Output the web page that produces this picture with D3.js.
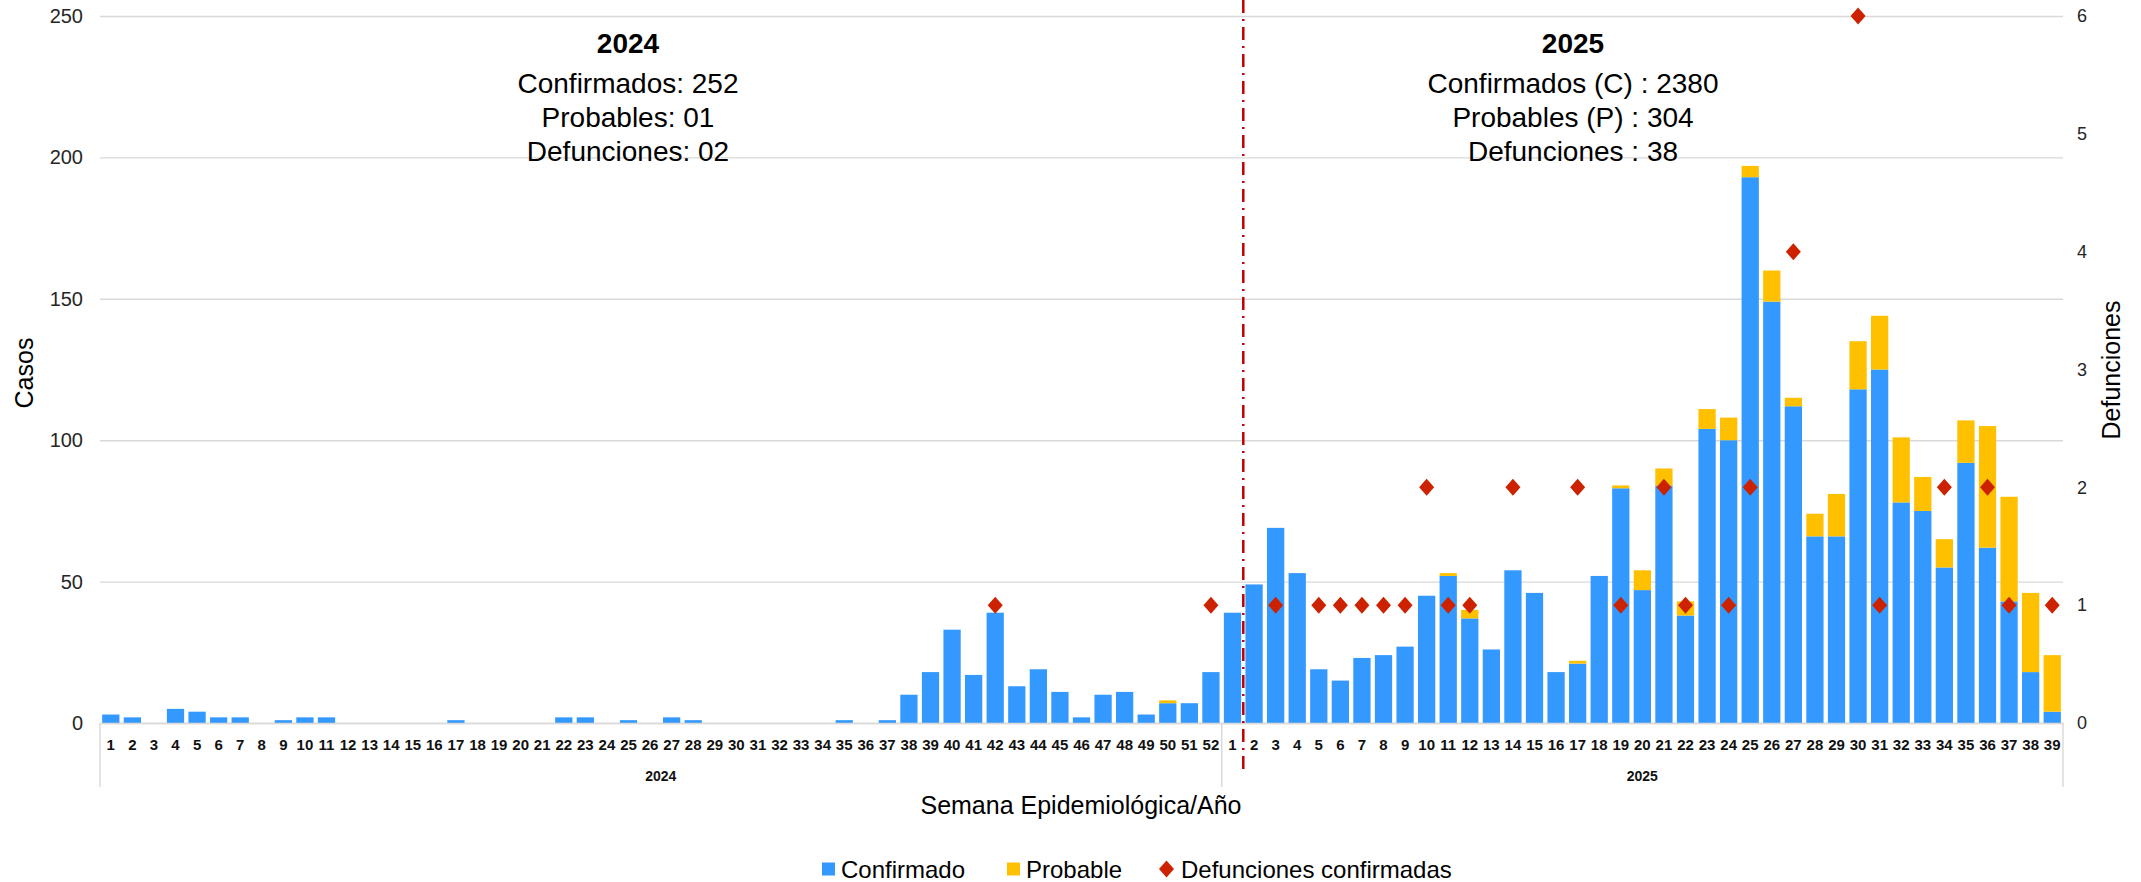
<!DOCTYPE html>
<html>
<head>
<meta charset="utf-8">
<script src="https://cdn.jsdelivr.net/npm/d3@7"></script>
<style>
  html, body { margin: 0; padding: 0; background: #fff; }
  svg { display: block; font-family: "Liberation Sans", Arial, sans-serif; }
</style>
</head>
<body>
<div id="chart"></div>
<script>
// semanas epidemiológicas
const weeks2024 = [1,2,3,4,5,6,7,8,9,10,11,12,13,14,15,16,17,18,19,20,21,22,23,24,25,26,
  27,28,29,30,31,32,33,34,35,36,37,38,39,40,41,42,43,44,45,46,47,48,49,50,51,52];
const weeks2025 = [1,2,3,4,5,6,7,8,9,10,11,12,13,14,15,16,17,18,19,20,21,22,23,24,25,26,
  27,28,29,30,31,32,33,34,35,36,37,38,39];

const confirmed2024 = [3,2,0,5,4,2,2,0,1,2,2,0,0,0,0,0,1,0,0,0,0,2,2,0,1,0,
  2,1,0,0,0,0,0,0,1,0,1,10,18,33,17,39,13,19,11,2,10,11,3,7,7,18];
const probable2024 = [0,0,0,0,0,0,0,0,0,0,0,0,0,0,0,0,0,0,0,0,0,0,0,0,0,0,
  0,0,0,0,0,0,0,0,0,0,0,0,0,0,0,0,0,0,0,0,0,0,0,1,0,0];
const deaths2024 = [null,null,null,null,null,null,null,null,null,null,null,null,null,null,null,null,null,null,null,null,null,null,null,null,null,null,
  null,null,null,null,null,null,null,null,null,null,null,null,null,null,null,1,null,null,null,null,null,null,null,null,null,1];

const confirmed2025 = [39,49,69,53,19,15,23,24,27,45,52,37,26,54,46,18,21,52,83,47,84,38,104,100,193,149,
  112,66,66,118,125,78,75,55,92,62,43,18,4];
const probable2025 = [0,0,0,0,0,0,0,0,0,0,1,3,0,0,0,0,1,0,1,7,6,5,7,8,4,11,
  3,8,15,17,19,23,12,10,15,43,37,28,20];
const deaths2025 = [null,null,1,null,1,1,1,1,1,2,1,1,null,2,null,null,2,null,1,null,2,1,null,1,2,null,
  4,null,null,6,1,null,null,2,null,2,1,null,1];

const leftTicks = [0,50,100,150,200,250];
const rightTicks = [0,1,2,3,4,5,6];

const summary2024 = ["Confirmados: 252", "Probables: 01", "Defunciones: 02"];
const summary2025 = ["Confirmados (C) : 2380", "Probables (P) : 304", "Defunciones : 38"];

const colors = { confirmed: "#3399ff", probable: "#ffc000", death: "#cc2200" };

// tabla de filas
const rows = [];
weeks2024.forEach((w, i) => rows.push({ key: "2024-" + w, year: "2024", week: w,
  confirmed: confirmed2024[i], probable: probable2024[i], deaths: deaths2024[i] }));
weeks2025.forEach((w, i) => rows.push({ key: "2025-" + w, year: "2025", week: w,
  confirmed: confirmed2025[i], probable: probable2025[i], deaths: deaths2025[i] }));

const W = 2141, H = 882;
const mLeft = 100, mRight = 2063, mTop = 16, mBottom = 723;

const svg = d3.select("#chart").append("svg")
  .attr("width", W).attr("height", H);

const x = d3.scaleBand()
  .domain(rows.map(d => d.key))
  .range([mLeft, mRight])
  .paddingInner(0.2)
  .paddingOuter(0.1);

const y = d3.scaleLinear().domain([0, 250]).range([mBottom, mTop]);
const y2 = d3.scaleLinear().domain([0, 6]).range([mBottom, mTop]);

// grid + eje izquierdo
const gy = svg.append("g")
  .attr("transform", `translate(${mLeft},0)`)
  .call(d3.axisLeft(y).tickValues(leftTicks).tickSize(-(mRight - mLeft)).tickPadding(17));
gy.select(".domain").remove();
gy.selectAll(".tick line").attr("stroke", "#d9d9d9").attr("stroke-width", 1.4);
gy.selectAll(".tick text").attr("font-size", 20).attr("fill", "#262626")
  .attr("font-family", "Liberation Sans, Arial, sans-serif");

// eje derecho
const gy2 = svg.append("g")
  .attr("transform", `translate(${mRight},0)`)
  .call(d3.axisRight(y2).tickValues(rightTicks).tickFormat(d3.format("d")).tickSize(0).tickPadding(14));
gy2.select(".domain").remove();
gy2.selectAll(".tick text").attr("font-size", 18).attr("fill", "#262626")
  .attr("font-family", "Liberation Sans, Arial, sans-serif");

// barras apiladas
const bars = svg.append("g");
bars.selectAll("rect.conf")
  .data(rows.filter(d => d.confirmed > 0))
  .join("rect")
  .attr("class", "conf")
  .attr("x", d => x(d.key))
  .attr("width", x.bandwidth())
  .attr("y", d => y(d.confirmed))
  .attr("height", d => y(0) - y(d.confirmed))
  .attr("fill", colors.confirmed);

bars.selectAll("rect.prob")
  .data(rows.filter(d => d.probable > 0))
  .join("rect")
  .attr("class", "prob")
  .attr("x", d => x(d.key))
  .attr("width", x.bandwidth())
  .attr("y", d => y(d.confirmed + d.probable))
  .attr("height", d => y(d.confirmed) - y(d.confirmed + d.probable))
  .attr("fill", colors.probable);

// eje x (semanas)
const gx = svg.append("g")
  .attr("transform", `translate(0,${mBottom})`)
  .call(d3.axisBottom(x).tickSize(0).tickPadding(16)
    .tickFormat(k => rows.find(r => r.key === k).week));
gx.select(".domain").attr("stroke", "#d9d9d9").attr("stroke-width", 1.6);
gx.selectAll(".tick text").attr("font-size", 15).attr("font-weight", "bold")
  .attr("fill", "#111").attr("font-family", "Liberation Sans, Arial, sans-serif");

// separadores de año
const cell = x.step();
const yearBounds = [mLeft, x("2025-1") - cell * 0.1, mRight];
svg.append("g").selectAll("line")
  .data(yearBounds)
  .join("line")
  .attr("x1", d => d).attr("x2", d => d)
  .attr("y1", mBottom).attr("y2", 787)
  .attr("stroke", "#d9d9d9").attr("stroke-width", 1.4);

const years = [
  { year: "2024", x0: yearBounds[0], x1: yearBounds[1] },
  { year: "2025", x0: yearBounds[1], x1: yearBounds[2] }
];
svg.append("g").selectAll("text")
  .data(years)
  .join("text")
  .attr("x", d => (d.x0 + d.x1) / 2)
  .attr("y", 781)
  .attr("text-anchor", "middle")
  .attr("font-size", 14)
  .attr("font-weight", "bold")
  .attr("fill", "#111")
  .text(d => d.year);

// línea divisoria roja
const splitX = x("2025-2") - cell * 0.1;
svg.append("line")
  .attr("x1", splitX).attr("x2", splitX)
  .attr("y1", 0).attr("y2", 769)
  .attr("stroke", "#c00000")
  .attr("stroke-width", 2.5)
  .attr("stroke-dasharray", "13,6,2,6");

// defunciones (rombos)
const diamond = {
  draw(ctx) {
    ctx.moveTo(0, -8.5); ctx.lineTo(7.5, 0); ctx.lineTo(0, 8.5); ctx.lineTo(-7.5, 0); ctx.closePath();
  }
};
svg.append("g").selectAll("path")
  .data(rows.filter(d => d.deaths != null))
  .join("path")
  .attr("transform", d => `translate(${x(d.key) + x.bandwidth() / 2},${y2(d.deaths)})`)
  .attr("d", d3.symbol(diamond)())
  .attr("fill", colors.death);

// resúmenes
function summary(cx, title, lines) {
  const g = svg.append("g");
  g.append("text")
    .attr("x", cx).attr("y", 53)
    .attr("text-anchor", "middle")
    .attr("font-size", 28).attr("font-weight", "bold")
    .text(title);
  g.selectAll("text.line")
    .data(lines)
    .join("text")
    .attr("class", "line")
    .attr("x", cx)
    .attr("y", (d, i) => 93 + i * 34)
    .attr("text-anchor", "middle")
    .attr("font-size", 28)
    .text(d => d);
}
summary(628, "2024", summary2024);
summary(1573, "2025", summary2025);

// títulos de ejes
svg.append("text")
  .attr("transform", `translate(33,373) rotate(-90)`)
  .attr("text-anchor", "middle")
  .attr("font-size", 25)
  .text("Casos");
svg.append("text")
  .attr("transform", `translate(2120,370) rotate(-90)`)
  .attr("text-anchor", "middle")
  .attr("font-size", 25)
  .text("Defunciones");
svg.append("text")
  .attr("x", 1081).attr("y", 814)
  .attr("text-anchor", "middle")
  .attr("font-size", 25)
  .text("Semana Epidemiológica/Año");

// leyenda
const legendItems = [
  { label: "Confirmado", color: colors.confirmed, shape: "square", x: 822 },
  { label: "Probable", color: colors.probable, shape: "square", x: 1007 },
  { label: "Defunciones confirmadas", color: colors.death, shape: "diamond", x: 1159 }
];
const lg = svg.append("g");
const li = lg.selectAll("g").data(legendItems).join("g")
  .attr("transform", d => `translate(${d.x},869)`);
li.filter(d => d.shape === "square").append("rect")
  .attr("x", 0).attr("y", -6.5).attr("width", 13).attr("height", 13)
  .attr("fill", d => d.color);
li.filter(d => d.shape === "diamond").append("path")
  .attr("transform", "translate(7.5,0)")
  .attr("d", d3.symbol(diamond)())
  .attr("fill", d => d.color);
li.append("text")
  .attr("x", d => d.shape === "square" ? 19 : 22)
  .attr("y", 8.5)
  .attr("font-size", 24)
  .text(d => d.label);
</script>
</body>
</html>
